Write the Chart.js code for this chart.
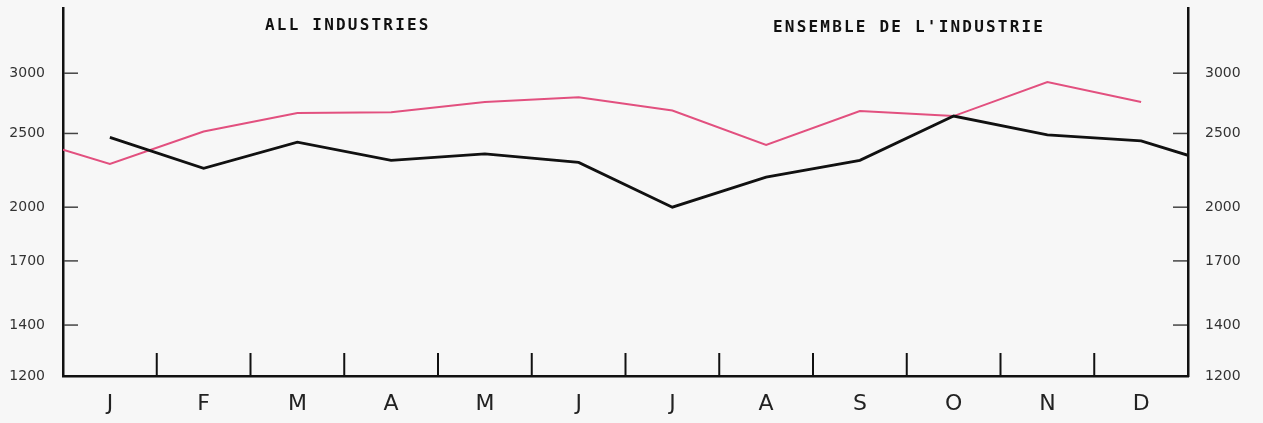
<!DOCTYPE html>
<html>
<head>
<meta charset="utf-8">
<script src="https://cdn.jsdelivr.net/npm/chart.js@4.4.0/dist/chart.umd.min.js"></script>
<style>
html, body { margin: 0; padding: 0; background: #f7f7f7; }
#wrap { position: relative; width: 1263px; height: 423px; }
.title {
    position: absolute;
    font-family: "DejaVu Sans Mono", monospace;
    font-weight: bold;
    font-size: 16px;
    letter-spacing: 2.2px;
    color: #111;
    white-space: nowrap;
}
</style>
</head>
<body>
<div id="wrap">
    <canvas id="chart" width="1263" height="423"></canvas>
    <div class="title" style="left:265px; top:15px;">ALL INDUSTRIES</div>
    <div class="title" style="left:773px; top:17px;">ENSEMBLE DE L'INDUSTRIE</div>
</div>
<script>
// données
const months = ['J', 'F', 'M', 'A', 'M', 'J', 'J', 'A', 'S', 'O', 'N', 'D'];
const blackValues = [2470, 2250, 2435, 2305, 2350, 2290, 2000, 2190, 2305, 2635, 2490, 2445];
const blackEnd = 2340;      // valeur au bord droit
const pinkValues = [2280, 2515, 2660, 2665, 2750, 2790, 2680, 2415, 2675, 2635, 2920, 2750];
const pinkStart = 2380;     // valeur au bord gauche
const yTicks = [1200, 1400, 1700, 2000, 2500, 3000];

main();

function main() {
    const blackPoints = blackValues.map((v, i) => ({ x: i + 0.5, y: v }));
    blackPoints.push({ x: 12, y: blackEnd });
    const pinkPoints = [{ x: 0, y: pinkStart }].concat(pinkValues.map((v, i) => ({ x: i + 0.5, y: v })));

    // petits traits de graduation tournés vers l'intérieur
    const tickMarks = {
        id: 'tickMarks',
        afterDraw(chart) {
            const { ctx, scales: { x, y, y2 } } = chart;
            ctx.save();
            ctx.strokeStyle = '#444';
            ctx.lineWidth = 1.5;
            yTicks.forEach(v => {
                if (v === yTicks[0]) return;
                const py = y.getPixelForValue(v);
                ctx.beginPath();
                ctx.moveTo(y.right + 1, py);
                ctx.lineTo(y.right + 15, py);
                ctx.stroke();
                const py2 = y2.getPixelForValue(v);
                ctx.beginPath();
                ctx.moveTo(y2.left - 15, py2);
                ctx.lineTo(y2.left - 1, py2);
                ctx.stroke();
            });
            ctx.strokeStyle = '#111';
            ctx.lineWidth = 2;
            for (let i = 1; i < months.length; i++) {
                const px = x.getPixelForValue(i);
                ctx.beginPath();
                ctx.moveTo(px, x.top);
                ctx.lineTo(px, x.top - 23);
                ctx.stroke();
            }
            ctx.restore();
        }
    };

    const yAxis = (position, width, gap) => ({
        type: 'logarithmic',
        position: position,
        min: 1200,
        max: 3650,
        afterBuildTicks: s => { s.ticks = yTicks.map(v => ({ value: v })); },
        afterFit: s => { s.width = width; },
        ticks: {
            callback: v => String(v),
            color: '#333',
            font: { family: 'DejaVu Sans', size: 14 },
            padding: 0,
        },
        grid: { display: false, drawTicks: true, tickLength: gap },
        border: { color: '#111', width: 2.5 },
    });

    new Chart(document.getElementById('chart'), {
        type: 'line',
        data: {
            datasets: [
                {
                    label: 'noir',
                    data: blackPoints,
                    borderColor: '#111',
                    borderWidth: 2.8,
                    pointRadius: 0,
                    yAxisID: 'y',
                },
                {
                    label: 'rose',
                    data: pinkPoints,
                    borderColor: '#e2507f',
                    borderWidth: 2,
                    pointRadius: 0,
                    yAxisID: 'y',
                },
            ],
        },
        options: {
            responsive: false,
            animation: false,
            layout: { padding: { top: 8, left: 0, right: 0, bottom: 0 } },
            plugins: {
                legend: { display: false },
                tooltip: { enabled: false },
            },
            scales: {
                x: {
                    type: 'linear',
                    min: 0,
                    max: 12,
                    afterBuildTicks: s => { s.ticks = months.map((m, i) => ({ value: i + 0.5 })); },
                    afterFit: s => { s.height = 47; },
                    ticks: {
                        callback: v => months[Math.floor(v)],
                        autoSkip: false,
                        maxRotation: 0,
                        color: '#222',
                        font: { family: 'DejaVu Sans', size: 22 },
                        padding: 15,
                    },
                    grid: { display: false, drawTicks: false },
                    border: { color: '#111', width: 2.5 },
                },
                y: yAxis('left', 63, 18),
                y2: yAxis('right', 75, 17),
            },
        },
        plugins: [tickMarks],
    });
}
</script>
</body>
</html>
